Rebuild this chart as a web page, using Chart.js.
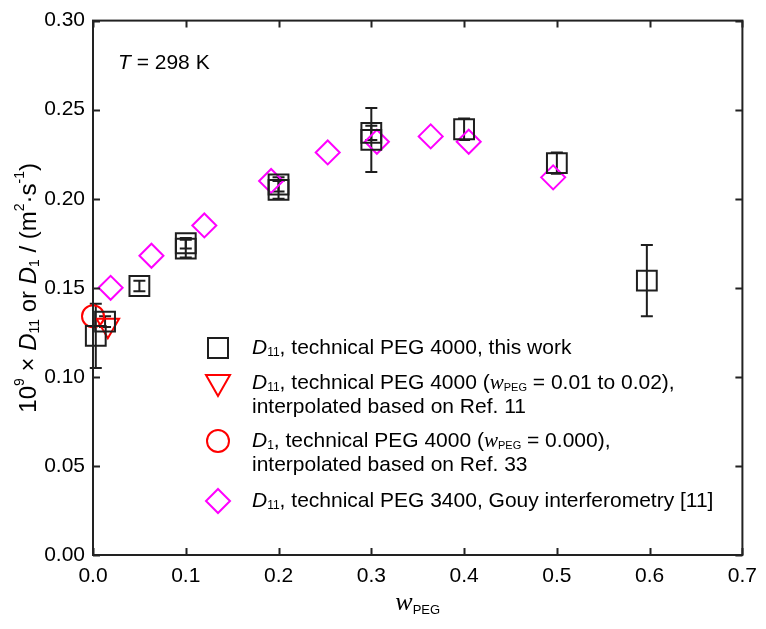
<!DOCTYPE html>
<html>
<head>
<meta charset="utf-8">
<script src="https://cdn.jsdelivr.net/npm/chart.js@4.4.0/dist/chart.umd.min.js"></script>
<style>
  html, body { margin: 0; padding: 0; background: #fff; }
  #wrap { width: 766px; height: 629px; }
</style>
</head>
<body>
<div id="wrap"><canvas id="myChart" width="766" height="629"></canvas></div>
<script>
  // data
  const xThisWork = [0.003, 0.013, 0.05, 0.1, 0.1, 0.2, 0.2, 0.3, 0.3, 0.4, 0.5, 0.597];
  const yThisWork = [0.123, 0.131, 0.151, 0.172, 0.175, 0.205, 0.208, 0.233, 0.237, 0.239, 0.220, 0.154];
  const errThisWork = [0.018, 0.003, 0.003, 0.005, 0.003, 0.005, 0.004, 0.018, 0.004, 0.006, 0.006, 0.020];

  const xRef11 = [0.016];
  const yRef11 = [0.129];

  const xRef33 = [0.0];
  const yRef33 = [0.134];

  const xGouy = [0.019, 0.063, 0.12, 0.192, 0.253, 0.306, 0.364, 0.405, 0.496];
  const yGouy = [0.150, 0.168, 0.185, 0.210, 0.226, 0.232, 0.235, 0.232, 0.212];

  const xTicks = [0, 0.1, 0.2, 0.3, 0.4, 0.5, 0.6, 0.7];
  const yTicks = [0, 0.05, 0.10, 0.15, 0.20, 0.25, 0.30];

  const SANS = '"Liberation Sans", Arial, sans-serif';
  const SERIF = '"Liberation Serif", "Times New Roman", serif';
  const BLACK = '#1e1e1e';
  const RED = '#ff0000';
  const PINK = '#ff00ff';

  function pts(xs, ys) {
    return xs.map((x, i) => ({ x: x, y: ys[i] }));
  }

  // draws runs of text one after another, each with own font and baseline shift
  function drawRich(ctx, parts, x, y) {
    let cx = x;
    parts.forEach(p => {
      ctx.font = p.font;
      ctx.fillText(p.t, cx, y + (p.dy || 0));
      cx += ctx.measureText(p.t).width;
    });
    return cx - x;
  }
  function richWidth(ctx, parts) {
    let w = 0;
    parts.forEach(p => { ctx.font = p.font; w += ctx.measureText(p.t).width; });
    return w;
  }

  const fs = 21;
  const F = 'px ' + SANS;
  const normal = fs + F;
  const ital = 'italic ' + fs + F;
  const sub = '12' + F;
  const wItal = 'italic 21px ' + SERIF;

  function D(subTxt) {
    return [{ t: 'D', font: ital }, { t: subTxt, font: sub, dy: 5 }];
  }

  const legendRows = [
    { marker: 'square', lines: [[...D('11'), { t: ', technical PEG 4000, this work', font: normal }]] },
    { marker: 'triangle', lines: [
      [...D('11'), { t: ', technical PEG 4000 (', font: normal }, { t: 'w', font: wItal }, { t: 'PEG', font: '11' + F, dy: 5 }, { t: ' = 0.01 to 0.02),', font: normal }],
      [{ t: 'interpolated based on Ref. 11', font: normal }]] },
    { marker: 'circle', lines: [
      [...D('1'), { t: ', technical PEG 4000 (', font: normal }, { t: 'w', font: wItal }, { t: 'PEG', font: '11' + F, dy: 5 }, { t: ' = 0.000),', font: normal }],
      [{ t: 'interpolated based on Ref. 33', font: normal }]] },
    { marker: 'diamond', lines: [[...D('11'), { t: ', technical PEG 3400, Gouy interferometry [11]', font: normal }]] }
  ];
  const legendY = [348, 383, 441, 501];

  function marker(ctx, kind, x, y) {
    ctx.save();
    ctx.lineWidth = 2;
    ctx.beginPath();
    if (kind === 'square') {
      ctx.strokeStyle = BLACK;
      ctx.rect(x - 10, y - 10, 20, 20);
    } else if (kind === 'triangle') {
      ctx.strokeStyle = RED;
      ctx.moveTo(x - 12, y - 8); ctx.lineTo(x + 12, y - 8); ctx.lineTo(x, y + 13); ctx.closePath();
    } else if (kind === 'circle') {
      ctx.strokeStyle = RED;
      ctx.arc(x, y, 11, 0, Math.PI * 2);
    } else {
      ctx.strokeStyle = PINK;
      ctx.moveTo(x, y - 12); ctx.lineTo(x + 12, y); ctx.lineTo(x, y + 12); ctx.lineTo(x - 12, y); ctx.closePath();
    }
    ctx.stroke();
    ctx.restore();
  }

  const decor = {
    id: 'decor',
    beforeDatasetsDraw(chart) {
      const { ctx, scales } = chart;
      // error bars for this work
      ctx.save();
      ctx.strokeStyle = BLACK;
      ctx.lineWidth = 2;
      xThisWork.forEach((xv, i) => {
        const px = scales.x.getPixelForValue(xv);
        const top = scales.y.getPixelForValue(yThisWork[i] + errThisWork[i]);
        const bot = scales.y.getPixelForValue(yThisWork[i] - errThisWork[i]);
        ctx.beginPath();
        ctx.moveTo(px, top); ctx.lineTo(px, bot);
        ctx.moveTo(px - 6, top); ctx.lineTo(px + 6, top);
        ctx.moveTo(px - 6, bot); ctx.lineTo(px + 6, bot);
        ctx.stroke();
      });
      ctx.restore();
    },
    afterDraw(chart) {
      const { ctx, chartArea: a, scales } = chart;
      ctx.save();
      // frame + inward ticks
      ctx.strokeStyle = '#222';
      ctx.lineWidth = 2;
      ctx.strokeRect(a.left, a.top, a.right - a.left, a.bottom - a.top);
      ctx.beginPath();
      xTicks.forEach(v => {
        const px = Math.round(scales.x.getPixelForValue(v)) + 0.5;
        ctx.moveTo(px, a.bottom); ctx.lineTo(px, a.bottom - 7);
        ctx.moveTo(px, a.top); ctx.lineTo(px, a.top + 7);
      });
      yTicks.forEach(v => {
        const py = Math.round(scales.y.getPixelForValue(v)) + 0.5;
        ctx.moveTo(a.left, py); ctx.lineTo(a.left + 7, py);
        ctx.moveTo(a.right, py); ctx.lineTo(a.right - 7, py);
      });
      ctx.stroke();

      ctx.fillStyle = '#000';
      ctx.textBaseline = 'middle';
      ctx.textAlign = 'left';

      // temperature note
      drawRich(ctx, [{ t: 'T', font: ital }, { t: ' = 298 K', font: normal }], 118, 63);

      // legend
      legendRows.forEach((row, i) => {
        marker(ctx, row.marker, 218, legendY[i]);
        row.lines.forEach((ln, j) => drawRich(ctx, ln, 252, legendY[i] + j * 24));
      });

      // x axis title
      const xt = [{ t: 'w', font: 'italic 26px ' + SERIF }, { t: 'PEG', font: '13' + F, dy: 7 }];
      const xw = richWidth(ctx, xt);
      drawRich(ctx, xt, (a.left + a.right) / 2 - xw / 2, 603);

      // y axis title, rotated
      const big = '24' + F, small = '14' + F;
      const yt = [
        { t: '10', font: big }, { t: '9', font: small, dy: -9 },
        { t: ' \u00d7 ', font: big },
        { t: 'D', font: 'italic ' + big }, { t: '11', font: small, dy: 6 },
        { t: ' or ', font: big },
        { t: 'D', font: 'italic ' + big }, { t: '1', font: small, dy: 6 },
        { t: ' / (m', font: big }, { t: '2', font: small, dy: -9 },
        { t: '\u00b7s', font: big }, { t: '-1', font: small, dy: -9 },
        { t: ')', font: big }
      ];
      const yw = richWidth(ctx, yt);
      ctx.translate(29, (a.top + a.bottom) / 2);
      ctx.rotate(-Math.PI / 2);
      drawRich(ctx, yt, -yw / 2, 0);
      ctx.restore();
    }
  };

  const ctx = document.getElementById('myChart').getContext('2d');
  const myChart = new Chart(ctx, {
    type: 'scatter',
    data: {
      datasets: [
        {
          label: 'D11, technical PEG 4000, this work',
          data: pts(xThisWork, yThisWork),
          pointStyle: 'rect',
          pointRadius: 14,
          borderColor: BLACK,
          backgroundColor: 'rgba(0,0,0,0)',
          borderWidth: 2,
          clip: false,
        },
        {
          label: 'D11, technical PEG 4000 (wPEG = 0.01 to 0.02)',
          data: pts(xRef11, yRef11),
          pointStyle: 'triangle',
          rotation: 180,
          pointRadius: 13,
          borderColor: RED,
          backgroundColor: 'rgba(0,0,0,0)',
          borderWidth: 2,
          clip: false,
        },
        {
          label: 'D1, technical PEG 4000 (wPEG = 0.000)',
          data: pts(xRef33, yRef33),
          pointStyle: 'circle',
          pointRadius: 11,
          borderColor: RED,
          backgroundColor: 'rgba(0,0,0,0)',
          borderWidth: 2,
          clip: false,
        },
        {
          label: 'D11, technical PEG 3400, Gouy interferometry [11]',
          data: pts(xGouy, yGouy),
          pointStyle: 'rectRot',
          pointRadius: 12,
          borderColor: PINK,
          backgroundColor: 'rgba(0,0,0,0)',
          borderWidth: 2,
          clip: false,
        },
      ],
    },
    options: {
      responsive: false,
      animation: false,
      devicePixelRatio: 1,
      layout: { padding: { top: 15, right: 18, left: 0, bottom: 0 } },
      plugins: {
        legend: { display: false },
        tooltip: { enabled: false },
      },
      scales: {
        x: {
          type: 'linear',
          min: 0,
          max: 0.7,
          grid: { display: false, drawTicks: false },
          border: { display: false },
          afterBuildTicks: s => { s.ticks = xTicks.map(v => ({ value: v })); },
          afterFit: s => { s.height = 74; },
          ticks: {
            padding: 9,
            color: '#000',
            font: { family: SANS, size: 21 },
            callback: v => v.toFixed(1),
          },
        },
        y: {
          min: 0,
          max: 0.3,
          grid: { display: false, drawTicks: false },
          border: { display: false },
          afterBuildTicks: s => { s.ticks = yTicks.map(v => ({ value: v })); },
          afterFit: s => { s.width = 93; },
          ticks: {
            padding: 8,
            color: '#000',
            font: { family: SANS, size: 21 },
            callback: v => v.toFixed(2),
          },
        },
      },
    },
    plugins: [decor],
  });
</script>
</body>
</html>
